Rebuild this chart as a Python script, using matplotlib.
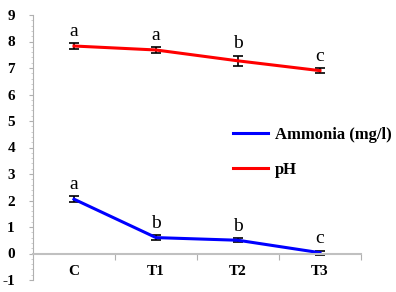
import matplotlib
matplotlib.use("Agg")
import matplotlib.pyplot as plt
from matplotlib.lines import Line2D
import numpy as np

categories = ["C", "T1", "T2", "T3"]
ph = [7.83, 7.68, 7.27, 6.90]
ph_err = [0.10, 0.12, 0.20, 0.09]
ph_letters = ["a", "a", "b", "c"]
ammonia = [2.05, 0.60, 0.50, 0.03]
ammonia_err = [0.12, 0.08, 0.07, 0.08]
ammonia_letters = ["a", "b", "b", "c"]

plt.rcParams['font.family'] = ['Liberation Serif', 'DejaVu Serif']

fig = plt.figure(figsize=(3.96, 2.92), dpi=100)
ax = fig.add_axes([33/396, (292-280)/292, (361-33)/396, (280-15)/292])

x = np.arange(len(categories))
ax.errorbar(x, ammonia, yerr=ammonia_err, color='#0000ff', lw=2.2, ecolor='black',
            elinewidth=1.2, capsize=3.5, capthick=1.2)
ax.errorbar(x, ph, yerr=ph_err, color='#ff0000', lw=2.2, ecolor='black',
            elinewidth=1.2, capsize=3.5, capthick=1.2)

for xi, v, e, t in zip(x, ph, ph_err, ph_letters):
    ax.text(xi, v + e + 0.12, t, ha='center', va='bottom', fontsize=14)
for xi, v, e, t in zip(x, ammonia, ammonia_err, ammonia_letters):
    ax.text(xi, v + e + 0.12, t, ha='center', va='bottom', fontsize=14)

ax.set_xlim(-0.5, 3.5)
ax.set_ylim(-1, 9)
ax.set_yticks(range(-1, 10))
ax.set_yticklabels([str(i) for i in range(-1, 10)], fontweight='bold', fontsize=11)
ax.set_yticks(np.arange(-1, 9.01, 0.2), minor=True)

ax.spines['top'].set_visible(False)
ax.spines['right'].set_visible(False)
ax.spines['left'].set_color('#b0b0b0')
ax.spines['bottom'].set_color('#c0c0c0')
ax.spines['bottom'].set_linewidth(1.5)
ax.spines['bottom'].set_position(('data', 0))

ax.set_xticks([0.5, 1.5, 2.5, 3.5])
ax.set_xticklabels([])
ax.set_xticks(x, minor=True)
ax.set_xticklabels(categories, minor=True, fontweight='bold', fontsize=11)
ax.tick_params(axis='x', which='major', direction='out', length=4, color='#b0b0b0')
ax.tick_params(axis='x', which='minor', length=0, pad=8)
ax.tick_params(axis='y', which='major', direction='out', length=3, color='#b0b0b0', pad=10)
ax.tick_params(axis='y', which='minor', direction='out', length=1.5, color='#c8c8c8', width=0.6)

handles = [Line2D([], [], color='#0000ff', lw=2.2), Line2D([], [], color='#ff0000', lw=2.2)]
fig.legend(handles, ['Ammonia (mg/l)', 'pH'], loc='upper left',
           bbox_to_anchor=(233/396, 1 - 127/292), bbox_transform=fig.transFigure,
           frameon=False, prop={'weight': 'bold', 'size': 12}, handlelength=2.1,
           labelspacing=1.15, handletextpad=0.4, borderpad=0, borderaxespad=0)

fig.savefig("out.png", dpi=100)
